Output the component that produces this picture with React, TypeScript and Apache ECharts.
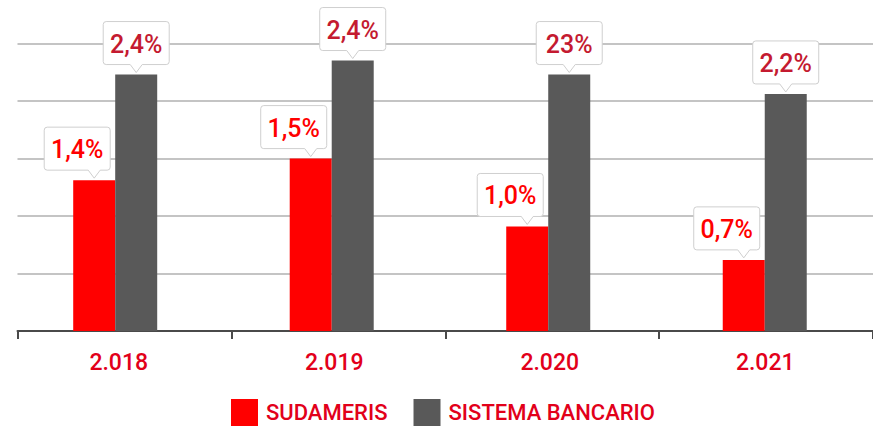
import React, { useEffect, useRef } from "react";
import * as echarts from "echarts";

const categories = ["2.018", "2.019", "2.020", "2.021"];
const seriesNames = ["SUDAMERIS", "SISTEMA BANCARIO"];
const sudamerisValues = [1.4, 1.6, 0.97, 0.66];
const bancarioValues = [2.38, 2.51, 2.38, 2.2];
const sudamerisLabels = ["1,4%", "1,5%", "1,0%", "0,7%"];
const bancarioLabels = ["2,4%", "2,4%", "23%", "2,2%"];

const RED = "#ff0000";
const GRAY = "#595959";
const TEXT_RED = "#e2001a";
const DARK_LABEL = "#c41a30";
const FONT = "Roboto, 'Noto Sans', sans-serif";

const BOX_W = 66;
const BOX_H = 43;
const ARROW_H = 8;
const ARROW_HALF = 6;

const Y_MAX = 2.67;
const Y_STEP = 0.534;

function calloutPath(left: number, top: number, arrowPos: number) {
  const r = 3;
  const R = left + BOX_W;
  const B = top + BOX_H;
  const ax = left + arrowPos;
  return [
    `M${left + r},${top}`,
    `L${R - r},${top}`,
    `Q${R},${top} ${R},${top + r}`,
    `L${R},${B - r}`,
    `Q${R},${B} ${R - r},${B}`,
    `L${ax + ARROW_HALF},${B}`,
    `L${ax},${B + ARROW_H}`,
    `L${ax - ARROW_HALF},${B}`,
    `L${left + r},${B}`,
    `Q${left},${B} ${left},${B - r}`,
    `L${left},${top + r}`,
    `Q${left},${top} ${left + r},${top}`,
    "Z",
  ].join(" ");
}

function makeCallout(
  name: string,
  values: number[],
  labels: string[],
  dx: number,
  arrowPos: number,
  color: string
) {
  return {
    type: "custom",
    name,
    z: 5,
    silent: true,
    xAxisIndex: 1,
    yAxisIndex: 1,
    data: values.map((v, i) => [i, v]),
    encode: { x: 0, y: 1 },
    renderItem: (params: any, api: any) => {
      const p = api.coord([api.value(0), api.value(1)]);
      const ax = p[0] + dx;
      const tipY = p[1] - 2;
      const left = ax - arrowPos;
      const top = tipY - BOX_H - ARROW_H;
      return {
        type: "group",
        children: [
          {
            type: "path",
            shape: {
              pathData: calloutPath(left, top, arrowPos),
              x: left,
              y: top,
              width: BOX_W,
              height: BOX_H + ARROW_H,
            },
            style: { fill: "#ffffff", stroke: "#cfcfcf", lineWidth: 1 },
          },
          {
            type: "text",
            x: left + BOX_W / 2,
            y: top + BOX_H / 2 + 1,
            style: {
              text: labels[params.dataIndex],
              fill: color,
              fontSize: 25,
              fontWeight: 500,
              fontFamily: FONT,
              align: "center",
              verticalAlign: "middle",
            },
          },
        ],
      };
    },
  };
}

export default function App() {
  const ref = useRef<HTMLDivElement>(null);

  useEffect(() => {
    if (!ref.current) return;
    const chart = echarts.init(ref.current, null, { renderer: "svg" });
    const gridTop = 43.3;
    const gridBottom = 97;
    const hiddenY = (gridIndex: number) => ({
      type: "value",
      gridIndex,
      min: 0,
      max: Y_MAX,
      interval: Y_STEP,
      show: false,
      splitLine: { show: false },
    });
    chart.setOption({
      animation: false,
      backgroundColor: "#ffffff",
      grid: [
        { left: 17.5, right: -9.7, top: gridTop, bottom: gridBottom },
        { left: 6.95, right: -5.55, top: gridTop, bottom: gridBottom },
        { left: 11, right: -10, top: gridTop, bottom: gridBottom },
      ],
      legend: {
        data: seriesNames,
        left: 231,
        top: 399,
        padding: 0,
        itemWidth: 27,
        itemHeight: 27,
        itemGap: 26,
        icon: "rect",
        selectedMode: false,
        textStyle: {
          color: TEXT_RED,
          fontSize: 22,
          fontWeight: 500,
          fontFamily: FONT,
          padding: [3, 0, 0, 3],
        },
      },
      xAxis: [
        {
          type: "category",
          gridIndex: 0,
          data: categories,
          axisLine: { show: true, lineStyle: { color: "#4a4a4a", width: 2 } },
          axisTick: { show: true, length: 8, lineStyle: { color: "#4a4a4a", width: 2 } },
          axisLabel: { show: false },
        },
        {
          type: "category",
          gridIndex: 1,
          data: categories,
          show: false,
        },
        {
          type: "category",
          gridIndex: 2,
          data: categories,
          axisLine: { show: false },
          axisTick: { show: false },
          axisLabel: {
            color: TEXT_RED,
            fontSize: 23,
            fontWeight: 500,
            fontFamily: FONT,
            margin: 20,
          },
        },
      ],
      yAxis: [
        {
          type: "value",
          gridIndex: 0,
          min: 0,
          max: Y_MAX,
          interval: Y_STEP,
          axisLine: { show: false },
          axisTick: { show: false },
          axisLabel: { show: false },
          splitLine: {
            show: true,
            showMinLine: false,
            lineStyle: { color: "#b0b0b0", width: 1.5 },
          },
        },
        hiddenY(1),
        hiddenY(2),
      ],
      series: [
        {
          type: "bar",
          name: seriesNames[0],
          xAxisIndex: 1,
          yAxisIndex: 1,
          data: sudamerisValues,
          barWidth: 42,
          barGap: "0%",
          itemStyle: { color: RED },
        },
        {
          type: "bar",
          name: seriesNames[1],
          xAxisIndex: 1,
          yAxisIndex: 1,
          data: bancarioValues,
          barWidth: 42,
          barGap: "0%",
          itemStyle: { color: GRAY },
        },
        makeCallout("callout-sudameris", sudamerisValues, sudamerisLabels, -21, 50, RED),
        makeCallout("callout-bancario", bancarioValues, bancarioLabels, 21, 33, DARK_LABEL),
      ],
    });
    return () => chart.dispose();
  }, []);

  return (
    <div
      ref={ref}
      style={{ position: "fixed", left: 0, top: 0, width: 873, height: 428 }}
    />
  );
}
